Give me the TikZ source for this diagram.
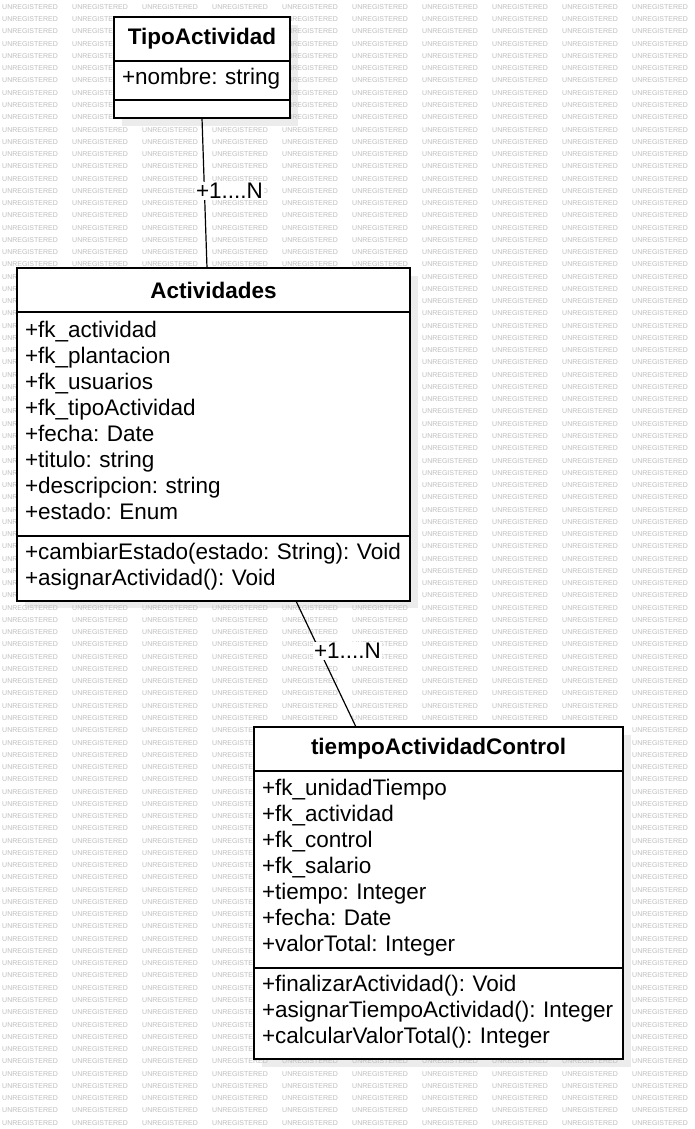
\documentclass[tikz,border=0pt]{standalone}
\usepackage{fontspec}
\setmainfont{Liberation Sans}
\usepackage{tikz}
\usetikzlibrary{calc}
\usetikzlibrary{positioning}
\definecolor{watermark}{RGB}{190, 190, 190}
\definecolor{shadowgray}{RGB}{236, 236, 236}

\tikzset{
    classtitle/.style={draw, line width=1.5pt, fill=white, inner sep=0pt, outer sep=0pt, minimum height=44pt,
        font=\fontsize{22.5}{26}\selectfont\bfseries},
    compartment/.style={draw, line width=1.5pt, fill=white, inner xsep=8pt, inner ysep=0pt, outer sep=0pt,
        align=left, font=\fontsize{22.5}{26}\selectfont},
    members/.style={compartment, execute at begin node={\frenchspacing\strut}, execute at end node={\rule[-10pt]{0pt}{1pt}}},
    wmtext/.style={anchor=west, inner sep=0pt, text=watermark, font=\fontsize{7}{8}\selectfont},
    assoc/.style={draw, line width=1.2pt},
    multlabel/.style={fill=white, inner sep=1pt, anchor=west, font=\fontsize{22.5}{26}\selectfont}
}

\begin{document}
\begin{tikzpicture}[x=1pt, y=-1pt]
            \useasboundingbox (0,0) rectangle (694,1129);
            \fill[white] (0,0) rectangle (694,1129);
            % shadows
            \fill[shadowgray] (122, 25) rectangle (298, 126);
            \fill[shadowgray] ( 25,276) rectangle (418, 608);
            \fill[shadowgray] (262,735) rectangle (631,1067);
            % watermark
            \foreach \r in {0,...,91}
                \foreach \c in {0,...,9}
                    \node[wmtext] (wm-\r-\c) at (2+70*\c, 7+12.26*\r) {UNREGISTERED};

            % TipoActividad
            \node[classtitle, minimum width=176pt, anchor=north west] (tipoTitle) at (114,17) {TipoActividad};
            \node[members, text width=160pt, minimum height=39pt, below=0pt of tipoTitle] (tipoAttr) {+nombre: string};
            \node[compartment, text width=160pt, minimum height=18pt, below=0pt of tipoAttr] (tipoMeth) {};

            % Actividades
            \node[classtitle, minimum width=393pt, anchor=north west] (actTitle) at (17,268) {Actividades};
            \node[members, text width=377pt, minimum height=224pt, below=0pt of actTitle] (actAttr)
                {+fk\_actividad\\+fk\_plantacion\\+fk\_usuarios\\+fk\_tipoActividad\\+fecha: Date\\+titulo: string\\+descripcion: string\\+estado: Enum};
            \node[members, text width=377pt, minimum height=65pt, below=0pt of actAttr] (actMeth)
                {+cambiarEstado(estado: String): Void\\+asignarActividad(): Void};

            % tiempoActividadControl
            \node[classtitle, minimum width=369pt, anchor=north west] (ctrlTitle) at (254,727) {tiempoActividadControl};
            \node[members, text width=353pt, minimum height=197pt, below=0pt of ctrlTitle] (ctrlAttr)
                {+fk\_unidadTiempo\\+fk\_actividad\\+fk\_control\\+fk\_salario\\+tiempo: Integer\\+fecha: Date\\+valorTotal: Integer};
            \node[members, text width=353pt, minimum height=91pt, below=0pt of ctrlAttr] (ctrlMeth)
                {+finalizarActividad(): Void\\+asignarTiempoActividad(): Integer\\+calcularValorTotal(): Integer};

            % associations
            \draw[assoc] (tipoMeth.south) -- ($(actTitle.north)+(-6.5,0)$)
                node[multlabel, pos=0.48, xshift=-10pt, yshift=-1pt] (multA) {+1....N};
            \draw[assoc] ($(actMeth.south)+(82.5,0)$) -- ($(ctrlTitle.north)+(-82.5,0)$)
                node[multlabel, pos=0.39, xshift=-7pt, yshift=-1pt] (multB) {+1....N};
        \end{tikzpicture}
\end{document}
